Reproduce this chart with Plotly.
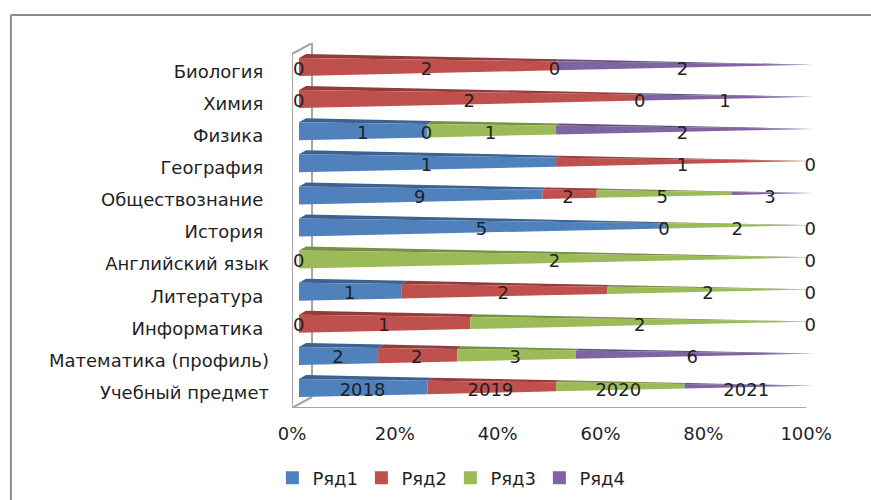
import plotly.graph_objects as go

categories = ["Учебный предмет", "Математика (профиль)", "Информатика", "Литература",
              "Английский язык", "История", "Обществознание", "География",
              "Физика", "Химия", "Биология"]
series_names = ["Ряд1", "Ряд2", "Ряд3", "Ряд4"]
r1 = [2018, 2, 0, 1, 0, 5, 9, 1, 1, 0, 0]
r2 = [2019, 2, 1, 2, 0, 0, 2, 1, 0, 2, 2]
r3 = [2020, 3, 2, 2, 2, 2, 5, 0, 1, 0, 0]
r4 = [2021, 6, 0, 0, 0, 0, 3, 0, 2, 1, 2]
series = [r1, r2, r3, r4]
front_colors = ["#4f81bd", "#c0504d", "#9bbb59", "#8064a2"]
top_colors = ["#3c6291", "#933c3a", "#779043", "#5f4a7a"]
x_ticks = [0, 20, 40, 60, 80, 100]
x_labels = ["0%", "20%", "40%", "60%", "80%", "100%"]

W, H = 871, 500
L, T, B = 292, 43, 92
PXX = 5.14                        # px per percent
XMAX = 106
R = W - L - PXX * XMAX
ROW = 32.1                        # px per row
PXY = ROW
Y0 = -0.623
Y1 = Y0 + (H - T - B) / ROW
DX = 7 / PXX                      # bar offset from the front wall
HALF = 9 / PXY                    # half-height of the bar at its base
RISE = 2.3 / PXY                  # centre rise toward the tip
DEPTH_X = 7 / PXX
DEPTH_Y = 4 / PXY
FONT = "DejaVu Sans"
FS = 18
TXT = "#1f1f1f"


def cy(i, p):
    return i + RISE * p / 100


def hw(p):
    return HALF * (1 - p / 100)


def d(p):
    return 1 - p / 100


fig = go.Figure()

for s, vals in enumerate(series):
    for i, v in enumerate(vals):
        tot = sum(r[i] for r in series)
        a = 100 * sum(series[k][i] for k in range(s)) / tot
        b = a + 100 * v / tot
        if v == 0:
            continue
        # top face
        fig.add_trace(go.Scatter(
            x=[DX + a, DX + b, DX + b + DEPTH_X * d(b), DX + a + DEPTH_X * d(a)],
            y=[cy(i, a) + hw(a), cy(i, b) + hw(b),
               cy(i, b) + hw(b) + DEPTH_Y * d(b), cy(i, a) + hw(a) + DEPTH_Y * d(a)],
            fill="toself", fillcolor=top_colors[s], mode="none",
            hoverinfo="skip", showlegend=False))
        # front face
        fig.add_trace(go.Scatter(
            x=[DX + a, DX + b, DX + b, DX + a],
            y=[cy(i, a) + hw(a), cy(i, b) + hw(b), cy(i, b) - hw(b), cy(i, a) - hw(a)],
            fill="toself", fillcolor=front_colors[s], mode="none",
            hoverinfo="skip", showlegend=False))

seen = set()
for s, vals in enumerate(series):
    lab_x, lab_y, lab_t = [], [], []
    for i, v in enumerate(vals):
        tot = sum(r[i] for r in series)
        a = 100 * sum(series[k][i] for k in range(s)) / tot
        b = a + 100 * v / tot
        # coinciding zero labels print on top of each other: keep one
        key = (i, round(a + b, 6), v)
        if key in seen:
            continue
        seen.add(key)
        lab_x.append(1.3 + 0.995 * (a + b) / 2)
        lab_y.append(i - 3 / PXY)
        lab_t.append(str(v))
    fig.add_trace(go.Scatter(
        x=lab_x, y=lab_y, text=lab_t, mode="text", textposition="middle center",
        textfont=dict(family=FONT, size=FS, color=TXT),
        hoverinfo="skip", showlegend=False, cliponaxis=False))

for s, name in enumerate(series_names):
    fig.add_trace(go.Scatter(
        x=[None], y=[None], mode="markers", name=name,
        marker=dict(symbol="square", size=13, color=front_colors[s])))

wall = dict(color="#a6a6a6", width=2)
wx = 20 / PXX
PW = W - L - R
PH = H - T - B
wall_shapes = [
    dict(type="line", x0=0, x1=0, y0=Y0, y1=Y1 - 11 / PXY, line=wall),
    dict(type="line", x0=0, x1=wx, y0=Y1 - 11 / PXY, y1=Y1, line=wall),
    dict(type="line", x0=wx, x1=wx, y0=Y0 + 11 / PXY, y1=Y1, line=wall),
    dict(type="line", x0=0, x1=wx, y0=Y0, y1=Y0 + 11 / PXY, line=wall),
    dict(type="line", x0=0, x1=100, y0=Y0, y1=Y0, line=wall),
]
border = dict(color="#8c8c8c", width=2)
frame = [
    dict(type="line", xref="paper", yref="paper", x0=(11 - L) / PW, x1=(W - L) / PW,
         y0=(H - B - 15) / PH, y1=(H - B - 15) / PH, line=border),
    dict(type="line", xref="paper", yref="paper", x0=(11 - L) / PW, x1=(11 - L) / PW,
         y0=(H - B - 15) / PH, y1=-B / PH, line=border),
]
for sh in wall_shapes + frame:
    sh["layer"] = "below"

fig.update_layout(
    width=W, height=H, autosize=False,
    margin=dict(l=L, r=R, t=T, b=B, pad=0, autoexpand=False),
    paper_bgcolor="white", plot_bgcolor="white",
    font=dict(family=FONT, size=FS, color=TXT),
    shapes=wall_shapes + frame,
    xaxis=dict(range=[0, XMAX], tickvals=x_ticks, ticktext=x_labels, showgrid=False, zeroline=False,
               showline=False, ticks="", ticklabelstandoff=13, fixedrange=True,
               tickfont=dict(family=FONT, size=FS, color=TXT)),
    yaxis=dict(range=[Y0, Y1], tickvals=[i - 4.5 / PXY for i in range(len(categories))],
               ticktext=[c + ("" if c in ("Учебный предмет", "Математика (профиль)", "Английский язык") else "\u00a0") for c in categories],
               showgrid=False, zeroline=False, showline=False, ticks="", ticklabelstandoff=22,
               fixedrange=True, tickfont=dict(family=FONT, size=FS, color=TXT)),
    legend=dict(orientation="h", x=-0.036, y=-0.192, xanchor="left", yanchor="middle",
                entrywidth=44, entrywidthmode="pixels", itemclick=False,
                font=dict(family=FONT, size=FS, color=TXT), bgcolor="rgba(0,0,0,0)"),
)

fig.write_html("out.html", config={"displayModeBar": False},
               post_script="document.body.style.margin='0';")
